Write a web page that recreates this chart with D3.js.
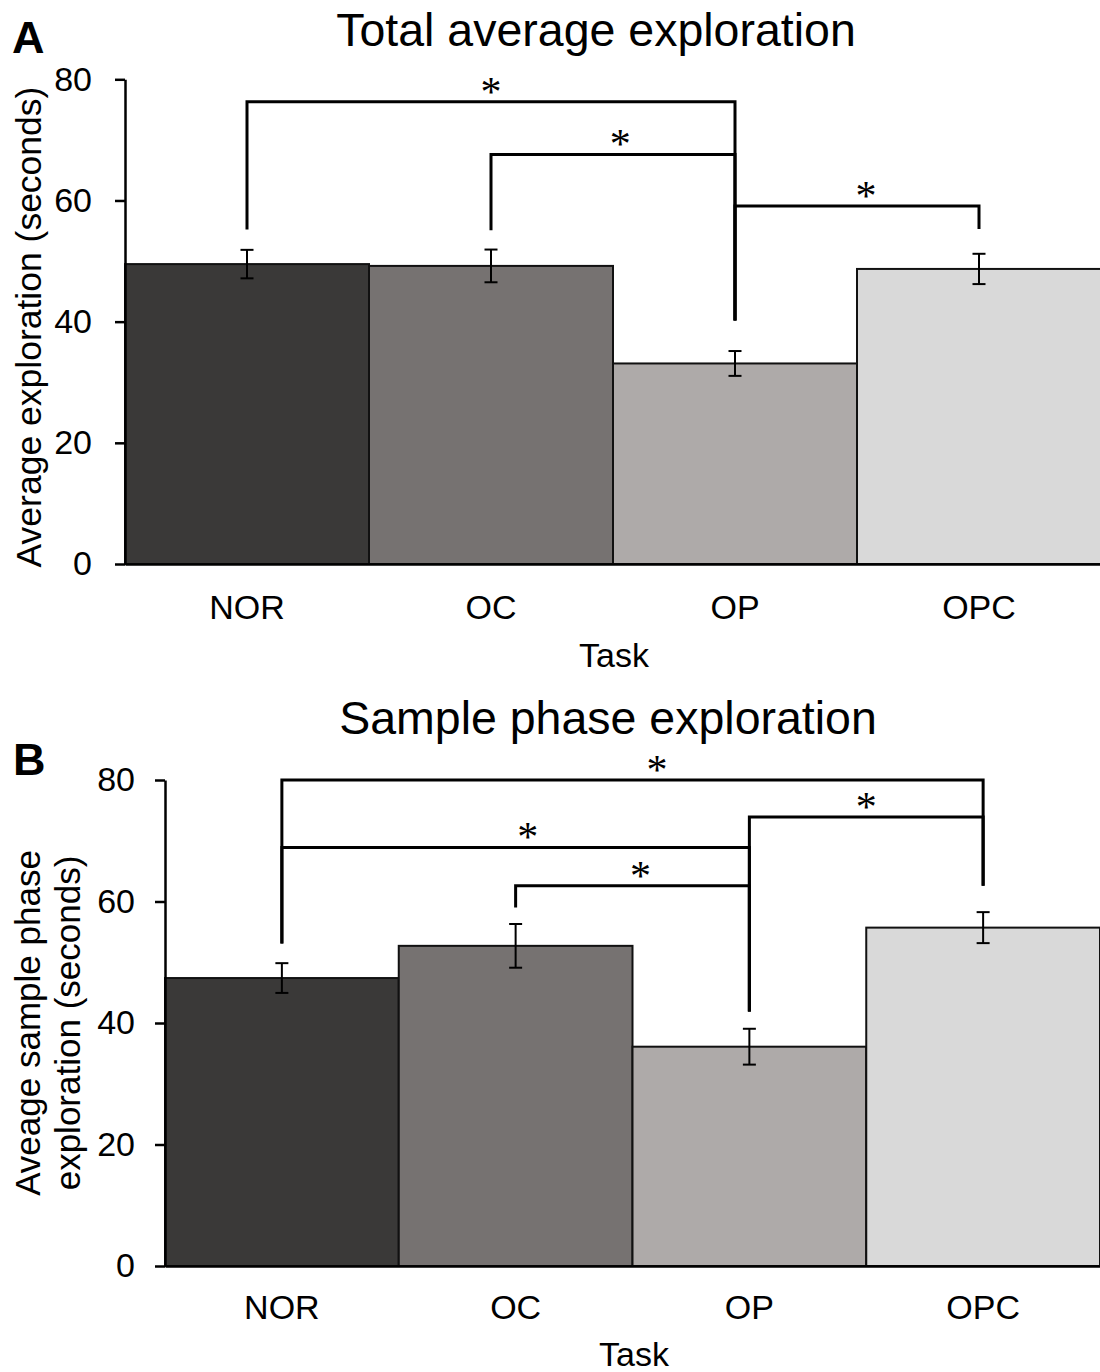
<!DOCTYPE html>
<html>
<head>
<meta charset="utf-8">
<script src="https://cdn.jsdelivr.net/npm/d3@7"></script>
<style>
  html, body { margin: 0; padding: 0; background: #fff; }
  svg { display: block; font-family: Arial, "Liberation Sans", sans-serif; }
</style>
</head>
<body>
<svg id="chart" width="1100" height="1372"></svg>
<script>
// ---------- data ----------
const categories = ["NOR", "OC", "OP", "OPC"];
const totalMeans = [49.5, 49.2, 33.1, 48.7];
const totalErrors = [2.35, 2.7, 2.05, 2.5];
const sampleMeans = [47.4, 52.7, 36.1, 55.7];
const sampleErrors = [2.45, 3.6, 2.95, 2.55];
const barColors = ["#3a3938", "#767271", "#aeaaa9", "#d9d9d9"];
const yTicks = [0, 20, 40, 60, 80];

// significance brackets: [fromIndex, toIndex, barY, fromLegEnd, toLegEnd, starFraction]
const totalBrackets = [
  [0, 2, 76.3, 55.2, 40.2, 0.5],
  [1, 2, 67.6, 55.1, 40.2, 0.53],
  [2, 3, 59.1, 40.2, 55.3, 0.537]
];
const sampleBrackets = [
  [0, 3, 80.0, 53.1, 62.6, 0.535],
  [0, 2, 68.9, 53.1, 41.9, 0.526],
  [2, 3, 73.9, 41.9, 62.6, 0.5],
  [1, 2, 62.6, 59.0, 41.9, 0.534]
];

const svg = d3.select("#chart");

function drawPanel(cfg) {
  const g = svg.append("g");
  const x = d3.scaleBand().domain(categories).range([cfg.x0, cfg.x1]).padding(0);
  const y = d3.scaleLinear().domain([0, 80]).range([cfg.yBottom, cfg.yTop]);
  const cx = i => x(categories[i]) + x.bandwidth() / 2;

  // bars
  g.selectAll("rect.bar").data(cfg.means).join("rect")
    .attr("class", "bar")
    .attr("x", (d, i) => x(categories[i]))
    .attr("y", d => y(d))
    .attr("width", x.bandwidth())
    .attr("height", d => y(0) - y(d))
    .attr("fill", (d, i) => barColors[i])
    .attr("stroke", "#111")
    .attr("stroke-width", 2);

  // error bars
  const eb = g.selectAll("g.err").data(cfg.means).join("g").attr("class", "err")
    .attr("stroke", "#000").attr("stroke-width", 2);
  eb.append("line")
    .attr("x1", (d, i) => cx(i)).attr("x2", (d, i) => cx(i))
    .attr("y1", (d, i) => y(d + cfg.errors[i])).attr("y2", (d, i) => y(d - cfg.errors[i]));
  eb.append("line")
    .attr("x1", (d, i) => cx(i) - 6.5).attr("x2", (d, i) => cx(i) + 6.5)
    .attr("y1", (d, i) => y(d + cfg.errors[i])).attr("y2", (d, i) => y(d + cfg.errors[i]));
  eb.append("line")
    .attr("x1", (d, i) => cx(i) - 6.5).attr("x2", (d, i) => cx(i) + 6.5)
    .attr("y1", (d, i) => y(d - cfg.errors[i])).attr("y2", (d, i) => y(d - cfg.errors[i]));

  // brackets
  cfg.brackets.forEach(b => {
    const [fi, ti, by, fe, te, sf] = b;
    const xa = cx(fi), xb = cx(ti);
    g.append("path")
      .attr("d", `M${xa},${y(fe)}V${y(by)}H${xb}V${y(te)}`)
      .attr("fill", "none").attr("stroke", "#000").attr("stroke-width", 3);
    g.append("text")
      .attr("x", xa + (xb - xa) * sf)
      .attr("y", y(by) + 4)
      .attr("text-anchor", "middle")
      .attr("font-family", "'Liberation Serif', 'Times New Roman', serif")
      .attr("font-size", 42)
      .text("*");
  });

  // y axis
  const ya = g.append("g")
    .attr("transform", `translate(${cfg.x0},0)`)
    .call(d3.axisLeft(y).tickValues(yTicks).tickSize(10).tickSizeOuter(0).tickPadding(cfg.tickPad));
  ya.select(".domain").attr("stroke", "#000").attr("stroke-width", 2.5);
  ya.selectAll(".tick line").attr("stroke", "#000").attr("stroke-width", 2.5);
  ya.selectAll(".tick text").attr("font-size", 34).attr("fill", "#000")
    .attr("font-family", "Arial, 'Liberation Sans', sans-serif");

  // x axis
  const xa = g.append("g")
    .attr("transform", `translate(0,${cfg.yBottom})`)
    .call(d3.axisBottom(x).tickSize(0).tickSizeOuter(0));
  xa.select(".domain").attr("stroke", "#000").attr("stroke-width", 2.5);
  xa.selectAll(".tick text").attr("font-size", 34).attr("fill", "#000")
    .attr("font-family", "Arial, 'Liberation Sans', sans-serif")
    .attr("dy", 0).attr("y", cfg.xLabelOffset);

  // x axis title
  g.append("text")
    .attr("x", cfg.taskX).attr("y", cfg.taskY)
    .attr("text-anchor", "middle").attr("font-size", 34).text("Task");

  // chart title
  g.append("text")
    .attr("x", cfg.titleX).attr("y", cfg.titleY)
    .attr("text-anchor", "middle").attr("font-size", 46.5).text(cfg.title);

  // panel letter
  g.append("text")
    .attr("x", cfg.letterX).attr("y", cfg.letterY)
    .attr("font-size", 45).attr("font-weight", "bold").text(cfg.letter);

  // y axis title
  const yl = g.append("text")
    .attr("transform", `translate(0,${cfg.yLabelCenter}) rotate(-90)`)
    .attr("text-anchor", "middle").attr("font-size", cfg.yLabelSize);
  cfg.yLabel.forEach((line, k) => {
    yl.append("tspan").attr("x", 0).attr("y", cfg.yLabelX[k]).text(line);
  });
}

drawPanel({
  x0: 125, x1: 1101, yBottom: 564, yTop: 79.3, tickPad: 23, xLabelOffset: 55,
  means: totalMeans, errors: totalErrors, brackets: totalBrackets,
  title: "Total average exploration", titleX: 596, titleY: 46,
  taskX: 614, taskY: 667, letter: "A", letterX: 12, letterY: 53,
  yLabel: ["Average exploration (seconds)"], yLabelX: [41], yLabelCenter: 327, yLabelSize: 35.5
});

drawPanel({
  x0: 165, x1: 1100, yBottom: 1266, yTop: 780, tickPad: 20, xLabelOffset: 53,
  means: sampleMeans, errors: sampleErrors, brackets: sampleBrackets,
  title: "Sample phase exploration", titleX: 608, titleY: 734,
  taskX: 634, taskY: 1366, letter: "B", letterX: 13, letterY: 775,
  yLabel: ["Aveage sample phase", "exploration (seconds)"], yLabelX: [40, 80], yLabelCenter: 1023, yLabelSize: 35
});
</script>
</body>
</html>
